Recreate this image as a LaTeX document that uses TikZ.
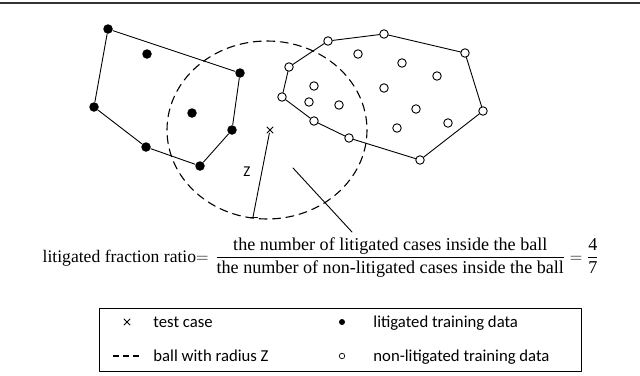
\documentclass[tikz,border=0pt]{standalone}
\usepackage{fontspec}
\setmainfont{Liberation Serif}
\newfontfamily\keyfont{Carlito}
\usetikzlibrary{shapes.misc}

\tikzset{
  litdot/.style={circle, fill=black, inner sep=0pt, minimum size=9.5pt},
  nondot/.style={circle, draw=black, fill=white, line width=0.9pt, inner sep=0pt, minimum size=8.5pt},
  hull/.style={line width=0.9pt},
  ball/.style={line width=1.1pt, dash pattern=on 8pt off 5.5pt},
  testmark/.style={cross out, draw, line width=0.8pt, inner sep=0pt, minimum size=5.5pt},
  keytext/.style={anchor=base west, inner sep=0pt, font=\keyfont\fontsize{16.7}{19}\selectfont},
}

\begin{document}
\begin{tikzpicture}[x=1pt, y=-1pt, line width=0.9pt, line cap=round, line join=round]

  %% ════ 顶部横线 ════
  \draw[line width=1.8pt, black!80] (0,3) -- (640,3);

  %% ════ 球（虚线椭圆，中心即测试样本）════
  \draw[ball] (267,130) ellipse [x radius=100, y radius=89];

  %% ════ 诉讼样本（实心点）════
  \node[litdot] (l1) at (108,29) {};
  \node[litdot] (l2) at (240,73) {};
  \node[litdot] (l3) at (232,130) {};
  \node[litdot] (l4) at (200,166) {};
  \node[litdot] (l5) at (146,147) {};
  \node[litdot] (l6) at (94,107) {};
  \node[litdot] (l7) at (147,54) {};
  \node[litdot] (l8) at (192,113) {};
  \draw[hull] (l1) -- (l2) -- (l3) -- (l4) -- (l5) -- (l6) -- (l1);

  %% ════ 非诉讼样本（空心点）════
  \node[nondot] (n1) at (289,67) {};
  \node[nondot] (n2) at (328,41) {};
  \node[nondot] (n3) at (384,34) {};
  \node[nondot] (n4) at (465,53) {};
  \node[nondot] (n5) at (483,111) {};
  \node[nondot] (n6) at (420,160) {};
  \node[nondot] (n7) at (349,138) {};
  \node[nondot] (n8) at (314,121) {};
  \node[nondot] (n9) at (282,97) {};
  \node[nondot] (n10) at (358,54) {};
  \node[nondot] (n11) at (402,63) {};
  \node[nondot] (n12) at (437,76) {};
  \node[nondot] (n13) at (314,86) {};
  \node[nondot] (n14) at (384,88) {};
  \node[nondot] (n15) at (309,102) {};
  \node[nondot] (n16) at (339,105) {};
  \node[nondot] (n17) at (416,109) {};
  \node[nondot] (n18) at (448,123) {};
  \node[nondot] (n19) at (397,128) {};
  \draw[hull] (n1) -- (n2) -- (n3) -- (n4) -- (n5) -- (n6) -- (n7) -- (n8) -- (n9) -- (n1);

  %% ════ 测试样本与半径 Z ════
  \node[testmark] (test) at (270,130) {};
  \coordinate (zend) at (253,217);
  \draw (test) -- (zend);
  \draw ([xshift=-4.5pt]zend) -- ([xshift=4.5pt]zend);
  \node[font=\keyfont\fontsize{15}{18}\selectfont] (zlabel) at (247,172) {Z};

  % 指向公式的引线
  \coordinate (ptrA) at (293,168);
  \coordinate (ptrB) at (352,232);
  \draw (ptrA) -- (ptrB);

  %% ════ 公式 ════
  \node[anchor=base east, inner sep=0pt, font=\fontsize{17.6}{21}\selectfont] (ratio) at (209,262)
    {litigated fraction ratio$=$};
  \node[anchor=base west, inner sep=0pt, font=\fontsize{18.1}{22}\selectfont] (frac) at (215,262)
    {$\displaystyle
     \frac{\mbox{the number of litigated cases inside the ball}}
          {\mbox{the number of non-litigated cases inside the ball}}
     = \frac{\mbox{4}}{\mbox{7}}$};

  %% ════ 图例 ════
  \node[draw, line width=1pt, minimum width=482pt, minimum height=63pt, inner sep=0pt] (legend) at (340,339.5) {};
  \node[testmark] (keytest) at (127,322) {};
  \node[keytext] (keytesttxt) at (153,327.5) {test case};
  \coordinate (keyballA) at (113,356);
  \coordinate (keyballB) at (139,356);
  \draw[line width=1.4pt, line cap=butt, dash pattern=on 6pt off 4pt] (keyballA) -- (keyballB);
  \node[keytext] (keyballtxt) at (153,361.5) {ball with radius Z};
  \node[circle, fill=black, inner sep=0pt, minimum size=6pt] (keylit) at (342,322) {};
  \node[keytext] (keylittxt) at (373,327.5) {litigated training data};
  \node[circle, draw=black, line width=0.7pt, inner sep=0pt, minimum size=5.5pt] (keynon) at (342,356) {};
  \node[keytext] (keynontxt) at (373,361.5) {non-litigated training data};

  % 钉死画布
  \pgfresetboundingbox
  \path[use as bounding box] (0,0) rectangle (640,375);
\end{tikzpicture}
\end{document}
